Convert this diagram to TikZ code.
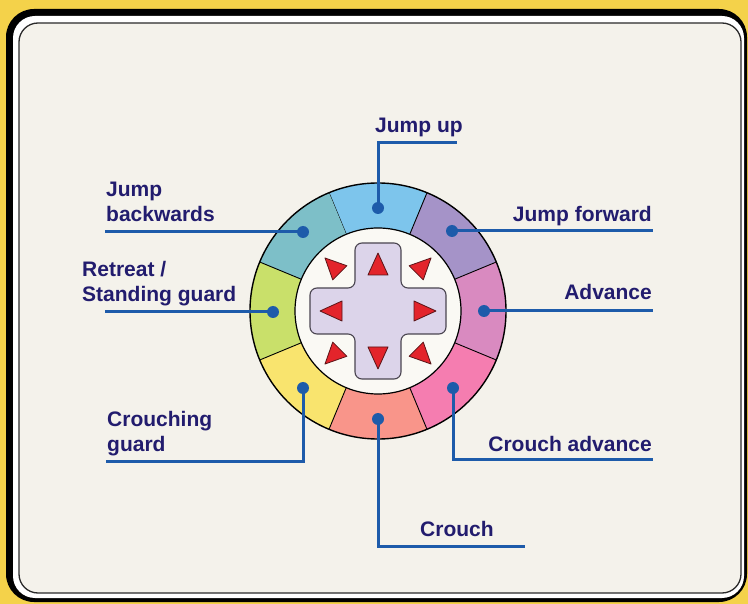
\documentclass[tikz,border=0pt]{standalone}
\usepackage{fontspec}
\setmainfont{Liberation Sans}
\usetikzlibrary{calc}
\definecolor{bgyellow}{HTML}{F4D24A}
\definecolor{paper}{HTML}{F4F2EB}
\definecolor{framecol}{HTML}{2A2A2A}
\definecolor{innerwhite}{HTML}{FAF9F4}
\definecolor{labelcol}{HTML}{221C6E}
\definecolor{linecol}{HTML}{1D5BAA}
\definecolor{padcol}{HTML}{DCD4EA}
\definecolor{padline}{HTML}{4A4550}
\definecolor{trired}{HTML}{E3242B}
\definecolor{tridark}{HTML}{5A1518}
\definecolor{segJU}{HTML}{7DC5EC}
\definecolor{segJF}{HTML}{A593C8}
\definecolor{segA}{HTML}{D98AC0}
\definecolor{segCA}{HTML}{F57DB0}
\definecolor{segC}{HTML}{F9958A}
\definecolor{segCG}{HTML}{F9E46E}
\definecolor{segR}{HTML}{C9E06A}
\definecolor{segJB}{HTML}{7DBFC8}
\begin{document}
\begin{tikzpicture}[x=1pt,y=-1pt,
  lbl/.style={text=labelcol, font=\fontsize{21}{25}\selectfont\bfseries, inner sep=0pt, align=left},
  conn/.style={draw=linecol, line width=3pt},
  dot/.style={circle, fill=linecol, inner sep=0pt, minimum size=12pt},
  tri/.style={fill=trired, draw=tridark, line width=0.8pt, line join=round},
  divider/.style={draw=black, line width=0.9pt}]

\useasboundingbox (0,0) rectangle (748,604);
\fill[bgyellow] (0,0) rectangle (748,604);
\fill[black, rounded corners=28pt] (6,9) rectangle (747,602);
\fill[white, rounded corners=22pt] (13,16) rectangle (744,598);
\filldraw[fill=paper, draw=framecol, line width=1.3pt, rounded corners=19pt] (19,23) rectangle (741,593);

% ring
\coordinate (c) at (378,311);
\foreach \a/\col in {90/segJU, 45/segJF, 0/segA, -45/segCA, -90/segC, -135/segCG, 180/segR, 135/segJB} {
  \fill[\col] ($(c)+(\a-22.5:83pt)$) arc[start angle=\a-22.5, end angle=\a+22.5, radius=83pt]
     -- ($(c)+(\a+22.5:128pt)$) arc[start angle=\a+22.5, end angle=\a-22.5, radius=128pt] -- cycle;
  \draw[divider] ($(c)+(\a+22.5:83pt)$) -- ($(c)+(\a+22.5:128pt)$);
}
\fill[innerwhite] (c) circle[radius=83pt];
\draw[line width=1.4pt] (c) circle[radius=128pt];
\draw[line width=1.2pt] (c) circle[radius=83pt];

% d-pad
\filldraw[fill=padcol, draw=padline, line width=1.1pt, rounded corners=7pt]
  (355,243) -- (401,243) -- (401,288) -- (446,288) -- (446,334) -- (401,334)
  -- (401,379) -- (355,379) -- (355,334) -- (310,334) -- (310,288) -- (355,288) -- cycle;
\foreach \a in {90,0,-90,180} {
  \filldraw[tri] ($(c)+(\a:58pt)$) -- ($(c)+(\a:36pt)+(\a+90:10pt)$) -- ($(c)+(\a:36pt)+(\a-90:10pt)$) -- cycle;
}
\foreach \a in {45,135,-45,-135} {
  \filldraw[tri] ($(c)+(\a:75pt)$) -- ($(c)+(\a:54pt)+(\a+90:10pt)$) -- ($(c)+(\a:54pt)+(\a-90:10pt)$) -- cycle;
}

% dots
\node[dot] (dJU) at (378,208) {};
\node[dot] (dJF) at (452,231) {};
\node[dot] (dA)  at (484,311) {};
\node[dot] (dCA) at (453,388) {};
\node[dot] (dC)  at (378,419) {};
\node[dot] (dCG) at (303,388) {};
\node[dot] (dR)  at (273,312) {};
\node[dot] (dJB) at (303,232) {};

% line ends
\coordinate (eJU) at (457,143);
\coordinate (eJF) at (653,231);
\coordinate (eA)  at (653,311);
\coordinate (eCA) at (653,459);
\coordinate (eC)  at (525,546);
\coordinate (eCG) at (106,461);
\coordinate (eR)  at (105,312);
\coordinate (eJB) at (105,232);

\draw[conn] (dJU.center) |- (eJU);
\draw[conn] (dJF.center) -- (eJF);
\draw[conn] (dA.center) -- (eA);
\draw[conn] (dCA.center) |- (eCA);
\draw[conn] (dC.center) |- (eC);
\draw[conn] (dCG.center) |- (eCG);
\draw[conn] (dR.center) -- (eR);
\draw[conn] (dJB.center) -- (eJB);

% labels (base anchor of a two-line node = baseline of its last line)
\node[lbl, anchor=base west] (tJU) at (375,133) {Jump up};
\node[lbl, anchor=base west] (tJB) at (106,222) {Jump\\backwards};
\node[lbl, anchor=base west] (tR)  at (82,302) {Retreat /\\Standing guard};
\node[lbl, anchor=base east] (tJF) at (652,222) {Jump forward};
\node[lbl, anchor=base east] (tA)  at (652,300) {Advance};
\node[lbl, anchor=base west] (tCG) at (107,452) {Crouching\\guard};
\node[lbl, anchor=base east] (tCA) at (652,451) {Crouch advance};
\node[lbl, anchor=base west] (tC)  at (420,536) {Crouch};
\end{tikzpicture}
\end{document}
